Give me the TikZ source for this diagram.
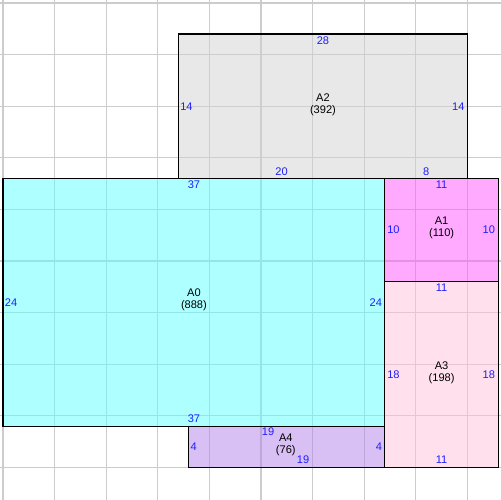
\documentclass[tikz,border=0pt]{standalone}
\usepackage{fontspec}
\setmainfont{Liberation Sans}
\definecolor{fAzero}{RGB}{93,255,255}
\definecolor{fAone}{RGB}{255,85,255}
\definecolor{fAtwo}{RGB}{209,209,209}
\definecolor{fAthree}{RGB}{255,193,217}
\definecolor{fAfour}{RGB}{177,129,233}
\definecolor{gridgrey}{RGB}{204,204,204}
\definecolor{dimblue}{RGB}{30,30,255}
\begin{document}
\begin{tikzpicture}[x=0.2064cm,y=-0.2064cm,
  gridline/.style={draw=gridgrey,line width=0.6pt},
  room/.style={fill opacity=0.5,draw=black,line width=0.7pt},
  dim/.style={text=dimblue,font=\fontsize{6.3}{7}\selectfont,inner sep=0pt},
  roomname/.style={text=black,font=\fontsize{6.3}{6.8}\selectfont,align=center,inner sep=0pt}]
\useasboundingbox (-0.2907,-0.2907) rectangle (48.159,48.159);
\foreach \i in {0,5,...,45} {
  \draw[gridline] (\i,-0.4) -- (\i,48.3);
  \draw[gridline] (-0.4,\i) -- (48.3,\i);
}
\draw[room,fill=fAtwo] (17,3) rectangle (45,17);
\draw[room,fill=fAzero] (0,17) rectangle (37,41);
\draw[room,fill=fAone] (37,17) rectangle (48,27);
\draw[room,fill=fAthree] (37,27) rectangle (48,45);
\draw[room,fill=fAfour] (18,41) rectangle (37,45);
% A2
\node[roomname] (nA2) at (31,9.85) {A2\\(392)};
\node[dim] (A2t) at (31,3.65) {28};
\node[dim,anchor=west] (A2l) at (17.15,10) {14};
\node[dim,anchor=east] (A2r) at (44.75,10) {14};
\node[dim] (A2b1) at (27,16.38) {20};
\node[dim] (A2b2) at (41,16.38) {8};
% A0
\node[roomname] (nA0) at (18.5,28.8) {A0\\(888)};
\node[dim] (A0t) at (18.5,17.64) {37};
\node[dim] (A0b) at (18.5,40.3) {37};
\node[dim,anchor=west] (A0l) at (0.15,29) {24};
\node[dim,anchor=east] (A0r) at (36.75,29) {24};
% A1
\node[roomname] (nA1) at (42.5,21.78) {A1\\(110)};
\node[dim] (A1t) at (42.5,17.64) {11};
\node[dim,anchor=west] (A1l) at (37.2,22) {10};
\node[dim,anchor=east] (A1r) at (47.7,22) {10};
% A3
\node[roomname] (nA3) at (42.5,35.83) {A3\\(198)};
\node[dim] (A3t) at (42.5,27.55) {11};
\node[dim] (A3b) at (42.5,44.28) {11};
\node[dim,anchor=west] (A3l) at (37.2,36) {18};
\node[dim,anchor=east] (A3r) at (47.7,36) {18};
% A4
\node[roomname] (nA4) at (27.4,42.78) {A4\\(76)};
\node[dim] (A4t) at (25.68,41.57) {19};
\node[dim] (A4b) at (29.07,44.28) {19};
\node[dim,anchor=west] (A4l) at (18.15,43) {4};
\node[dim,anchor=east] (A4r) at (36.75,43) {4};
\end{tikzpicture}
\end{document}
